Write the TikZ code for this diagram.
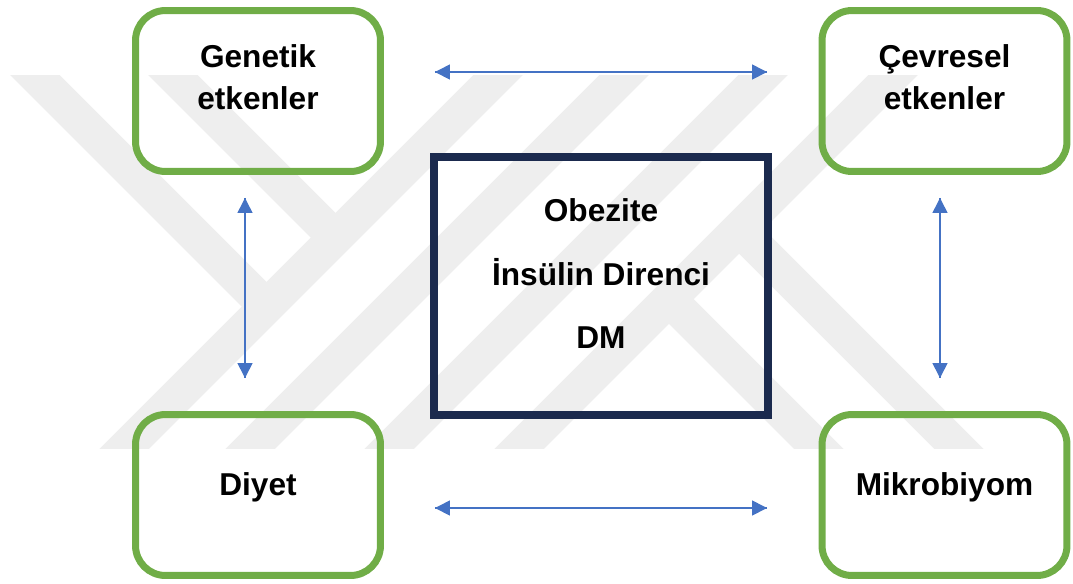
\documentclass[tikz,border=0pt]{standalone}
\usepackage{fontspec}
\setmainfont{Liberation Sans}
\usetikzlibrary{arrows.meta}
\usetikzlibrary{decorations.markings}
\definecolor{boxgreen}{HTML}{70AD47}
\definecolor{arrowblue}{HTML}{4472C4}
\definecolor{navy}{HTML}{1B2A4E}
\definecolor{wmgray}{HTML}{EEEEEE}
\tikzset{<->/.style = {decoration={markings,
                                   mark=at position 0 with {\arrowreversed{Triangle[length=8.5pt,width=8.5pt]}},
                                   mark=at position 1 with {\arrow{Triangle[length=8.5pt,width=8.5pt]}}},
                       postaction={decorate}}}
\tikzset{greenbox/.style = {draw=boxgreen, line width=0.14cm, rounded corners=0.6cm,
                            minimum width=4.9cm, minimum height=3.22cm, inner sep=0pt},
         navybox/.style = {draw=navy, line width=0.16cm,
                           minimum width=6.68cm, minimum height=5.16cm, inner sep=0pt},
         lbl/.style = {font=\bfseries\fontsize{18}{24.4}\selectfont, align=center, inner sep=0pt},
         wmband/.style = {draw=wmgray, line width=0.7cm}}

\begin{document}
\begin{tikzpicture}[x=0.02cm, y=-0.02cm]
    \useasboundingbox (0,0) rectangle (1073,583);

    % watermark
    \begin{scope}
      \clip (0,75) rectangle (1073,448);
      \foreach \s in {573,699,838,968} {
        \draw [wmband] ({\s-50},50) -- ({\s-473},473);
      };
      \foreach \a/\b/\c/\d in {-15/25/266.5/306.5, 123/25/335.5/237.5, 669/299/843/473, 739/229/983/473} {
        \draw [wmband] (\a,\b) -- (\c,\d);
      };
    \end{scope}

    \node [greenbox] (gen) at (258,91) {};
    \node [greenbox] (cev) at (944.5,91) {};
    \node [greenbox] (diy) at (258,495) {};
    \node [greenbox] (mik) at (944.5,495) {};
    \node [navybox] (dm) at (601,286) {};

    \node [lbl] (genlbl) at (258,77.2) {Genetik\\etkenler};
    \node [lbl] (cevlbl) at (944.5,77.2) {Çevresel\\etkenler};
    \node [lbl, anchor=base] (diylbl) at (258,495) {Diyet};
    \node [lbl, anchor=base] (miklbl) at (944.5,495) {Mikrobiyom};
    \node [lbl, font=\bfseries\fontsize{18}{36}\selectfont] (dmlbl) at (601,273.7) {Obezite\\İnsülin Direnci\\DM};

    \draw [<->, arrowblue, line width=0.85pt] ([xshift=1.02cm,yshift=0.38cm]gen.east) -- ([xshift=-1.03cm,yshift=0.38cm]cev.west);
    \draw [<->, arrowblue, line width=0.85pt] ([xshift=1.02cm,yshift=-0.26cm]diy.east) -- ([xshift=-1.03cm,yshift=-0.26cm]mik.west);
    \draw [<->, arrowblue, line width=0.85pt] ([xshift=-0.26cm,yshift=-0.46cm]gen.south) -- ([xshift=-0.26cm,yshift=0.66cm]diy.north);
    \draw [<->, arrowblue, line width=0.85pt] ([xshift=-0.09cm,yshift=-0.46cm]cev.south) -- ([xshift=-0.09cm,yshift=0.66cm]mik.north);
\end{tikzpicture}
\end{document}
